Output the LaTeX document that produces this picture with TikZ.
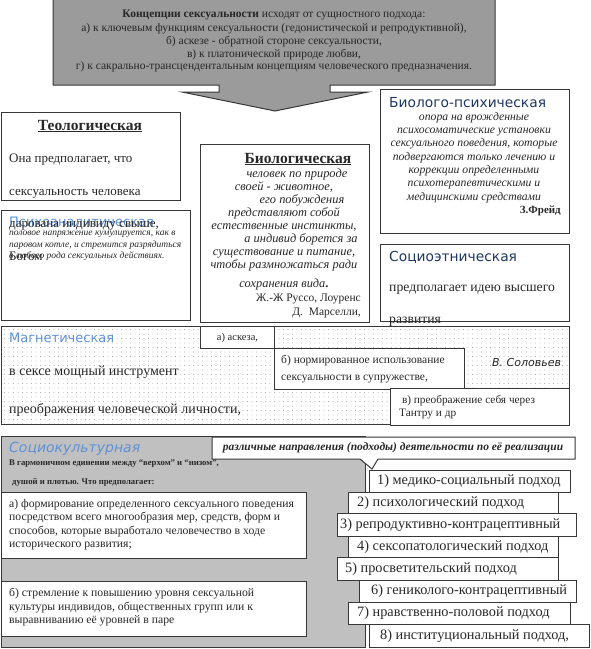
\documentclass[tikz,border=0pt]{standalone}
\usepackage{fontspec}
\setmainfont{Liberation Serif}
\newfontfamily\headsans{DejaVu Sans}
\usepackage{xcolor}
\usepackage{tikz}
\definecolor{framegray}{RGB}{55,55,55}
\definecolor{topgray}{RGB}{155,155,155}
\definecolor{sociogray}{RGB}{192,192,192}
\definecolor{lightblue}{RGB}{95,145,215}
\definecolor{darkblue}{RGB}{30,55,100}
\definecolor{textgray}{RGB}{40,40,40}
\usetikzlibrary{positioning, patterns.meta}
\newcommand{\setfs}[2]{\fontsize{#1}{#2}\selectfont}

\begin{document}
\begin{tikzpicture}[
    x=1pt, y=-1pt,
    every node/.append style={text=textgray},
    frame/.style={draw=framegray, line width=1pt, fill=white,
                anchor=north west, inner sep=0pt},
    dotframe/.style={frame, preaction={fill=white},
                pattern={Dots[distance=4.5pt, radius=0.45pt]}, pattern color=gray},
    sociobox/.style={frame, fill=sociogray},
    serifhead/.style={font=\setfs{15.5}{17}\bfseries, inner sep=0pt},
    lighthead/.style={font=\headsans\setfs{13}{15}, text=lightblue, inner sep=0pt, anchor=west},
    darkhead/.style={font=\headsans\setfs{13.8}{15}, text=darkblue, inner sep=0pt, anchor=west},
    bodytext/.style={font=\setfs{13}{32.5}, inner sep=0pt, anchor=west},
    steptext/.style={font=\setfs{14.3}{15}, inner sep=0pt, anchor=west}
]
    \fill[white] (0,0) rectangle (591,649);
    \useasboundingbox (0,0) rectangle (591,649);

    % Concepts with the down arrow
    \draw[draw=framegray, line width=1pt, fill=topgray]
        (53,-2) -- (495,-2) -- (495,85) -- (330,85) -- (330,92) -- (368,92)
        -- (275,111) -- (182,92) -- (219,92) -- (219,85) -- (53,85) -- cycle;
    \node[font=\setfs{11.5}{12.7}, align=center, text=black!85] (concepts) at (274,41)
        {\textbf{Концепции сексуальности} исходят от сущностного подхода:\\[2pt]
         а) к ключевым функциям сексуальности (гедонистической и репродуктивной),\\
         б) аскезе - обратной стороне сексуальности,\\
         в) к платонической природе любви,\\
         г) к сакрально-трансцендентальным концепциям человеческого предназначения.};

    % Theological and psychoanalytic
    \node[frame, minimum width=179pt, minimum height=88pt] (teo) at (1,112) {};
    \node[serifhead] (teohead) at (90,126) {\underline{Теологическая}};
    \node[frame, minimum width=189pt, minimum height=110pt] (psy) at (1,210) {};
    \node[lighthead] (psyhead) at (9,222) {Психоаналитическая};
    \node[font=\setfs{9.5}{11.5}\itshape, align=left, inner sep=0pt, anchor=north west]
        (psytext) at (9,231)
        {половое напряжение кумулируется, как в\\
         паровом котле, и стремится разрядиться\\
         в любого рода сексуальных действиях.};
    \node[bodytext, anchor=north west, align=left] (teotext) at (9,154)
        {Она предполагает, что\\ сексуальность человека\\
         дарована индивиду свыше,\\ Богом};

    % Biological
    \node[frame, minimum width=169pt, minimum height=178pt] (bio) at (200,144) {};
    \node[serifhead] (biohead) at (298,159) {\underline{Биологическая}};
    \node[font=\setfs{12.4}{13}\itshape, align=center, inner sep=0pt, anchor=north]
        (biotext) at (284,169)
        {\hspace*{26pt}человек по природе\\ своей - животное,\\
         \hspace*{36pt}его побуждения\\ представляют собой\\
         естественные инстинкты,\\ \hspace*{34pt}а индивид борется за\\
         существование и питание,\\ чтобы размножаться ради\\[6pt]
         сохранения вида{\upshape\bfseries.}};
    \node[font=\setfs{11.5}{14}, align=right, inner sep=0pt, anchor=north east]
        (bioauthors) at (361,294) {Ж.-Ж Руссо, Лоуренс\\ Д.\ \ Марселли,};

    % Bio-psychic
    \node[frame, minimum width=189pt, minimum height=144pt] (biopsy) at (380,89) {};
    \node[darkhead] (biopsyhead) at (389,103) {Биолого-психическая};
    \node[font=\setfs{11.7}{13.3}\itshape, align=center, inner sep=0pt, anchor=north]
        (biopsytext) at (474,112)
        {опора на врожденные\\ психосоматические установки\\
         сексуального поведения, которые\\ подвергаются только лечению и\\
         коррекции определенными\\ психотерапевтическими и\\ медицинскими средствами};
    \node[font=\setfs{11}{13}\bfseries, inner sep=0pt, anchor=east] (freud) at (561,211) {З.Фрейд};

    % Socio-ethnic
    \node[frame, minimum width=189pt, minimum height=77pt] (ethno) at (380,244) {};
    \node[darkhead, font=\headsans\setfs{13.8}{16}] (ethnohead) at (389,257) {Социоэтническая};

    % Magnetic
    \node[dotframe, minimum width=568pt, minimum height=98pt] (magnet) at (1,326) {};
    \node[bodytext, font=\setfs{13.7}{15}] (ethnotext) at (389,290) {предполагает идею высшего};
    \node[bodytext, font=\setfs{13.7}{15}] (ethnotext2) at (389,322) {развития};
    \node[lighthead] (magnethead) at (9,338) {Магнетическая};
    \node[bodytext, font=\setfs{14}{15}] (magnettext) at (9,372) {в сексе мощный инструмент};
    \node[bodytext, font=\setfs{14}{15}] (magnettext2) at (9,410) {преображения человеческой личности,};
    \node[font=\headsans\setfs{11}{13}\itshape, inner sep=0pt, anchor=west] (solovyov) at (492,362) {В. Соловьев};
    \node[frame, minimum width=74pt, minimum height=22pt] (askeza) at (200,326) {};
    \node[font=\setfs{10.5}{12}, inner sep=0pt] at (askeza.center) {а) аскеза,};
    \node[frame, minimum width=190pt, minimum height=41pt] (norm) at (274,348) {};
    \node[font=\setfs{11.5}{16.5}, align=left, inner sep=0pt, anchor=west] at ([xshift=7pt]norm.west)
        {б) нормированное использование\\ сексуальности в супружестве,};
    \node[frame, minimum width=179pt, minimum height=37pt] (tantra) at (390,388) {};
    \node[font=\setfs{11.3}{13.5}, align=left, inner sep=0pt, anchor=west] at ([xshift=9pt]tantra.west)
        {\ в) преображение себя через\\ Тантру и др};

    % Socio-cultural
    \node[sociobox, minimum width=364pt, minimum height=211pt] (socio) at (1,436) {};
    \node[lighthead, font=\headsans\setfs{14}{16}\itshape] (sociohead) at (9,449) {Социокультурная};
    \node[font=\setfs{8.7}{10}\bfseries, inner sep=0pt, anchor=west] (sociotext) at (9,464)
        {В гармоничном единении между “верхом” и “низом”,};
    \node[font=\setfs{8.7}{10}\bfseries, inner sep=0pt, anchor=west] (sociotext2) at (12,482)
        {душой и плотью. Что предполагает:};
    \node[frame, minimum width=305pt, minimum height=66pt] (forming) at (1,492) {};
    \node[font=\setfs{11.7}{13.5}, align=left, inner sep=0pt, anchor=north west] at (9,499)
        {а) формирование определенного сексуального поведения\\
         посредством всего многообразия мер, средств, форм и\\
         способов, которые выработало человечество в ходе\\
         исторического развития;};
    \node[frame, minimum width=305pt, minimum height=55pt] (striving) at (1,581) {};
    \node[font=\setfs{11.7}{13.5}, align=left, inner sep=0pt, anchor=north west] at (9,588)
        {б) стремление к повышению уровня сексуальной\\
         культуры индивидов, общественных групп или к\\
         выравниванию её уровней в паре};

    % Directions callout
    \draw[draw=framegray, line width=1pt, fill=white]
        (212,437) -- (575,437) -- (575,459) -- (378,459) -- (372,469)
        -- (360,459) -- (212,459) -- cycle;
    \node[font=\setfs{11.5}{13}\bfseries\itshape, inner sep=0pt] (directions) at (393,448)
        {различные направления (подходы) деятельности по её реализации};

    % Approaches
    \node[frame, minimum width=201pt, minimum height=22pt] (s1) at (369,470) {};
    \node[frame, minimum width=210pt, minimum height=21pt] (s2) at (348,492) {};
    \node[frame, minimum width=239pt, minimum height=23pt] (s3) at (337,513) {};
    \node[frame, minimum width=210pt, minimum height=21pt] (s4) at (348,536) {};
    \node[frame, minimum width=221pt, minimum height=23pt] (s5) at (337,557) {};
    \node[frame, minimum width=217pt, minimum height=22pt] (s6) at (359,580) {};
    \node[frame, minimum width=222pt, minimum height=22pt] (s7) at (348,602) {};
    \node[frame, minimum width=220pt, minimum height=23pt] (s8) at (369,624) {};
    \node[steptext] at ([xshift=8pt]s1.west) {1) медико-социальный подход};
    \node[steptext] at ([xshift=9pt]s2.west) {2) психологический подход};
    \node[steptext] at ([xshift=3pt]s3.west) {3) репродуктивно-контрацептивный};
    \node[steptext] at ([xshift=9pt]s4.west) {4) сексопатологический подход};
    \node[steptext] at ([xshift=8pt]s5.west) {5) просветительский подход};
    \node[steptext] at ([xshift=12pt]s6.west) {6) гениколого-контрацептивный};
    \node[steptext] at ([xshift=9pt]s7.west) {7) нравственно-половой подход};
    \node[steptext] at ([xshift=11pt]s8.west) {8) институциональный подход,};
\end{tikzpicture}
\end{document}
